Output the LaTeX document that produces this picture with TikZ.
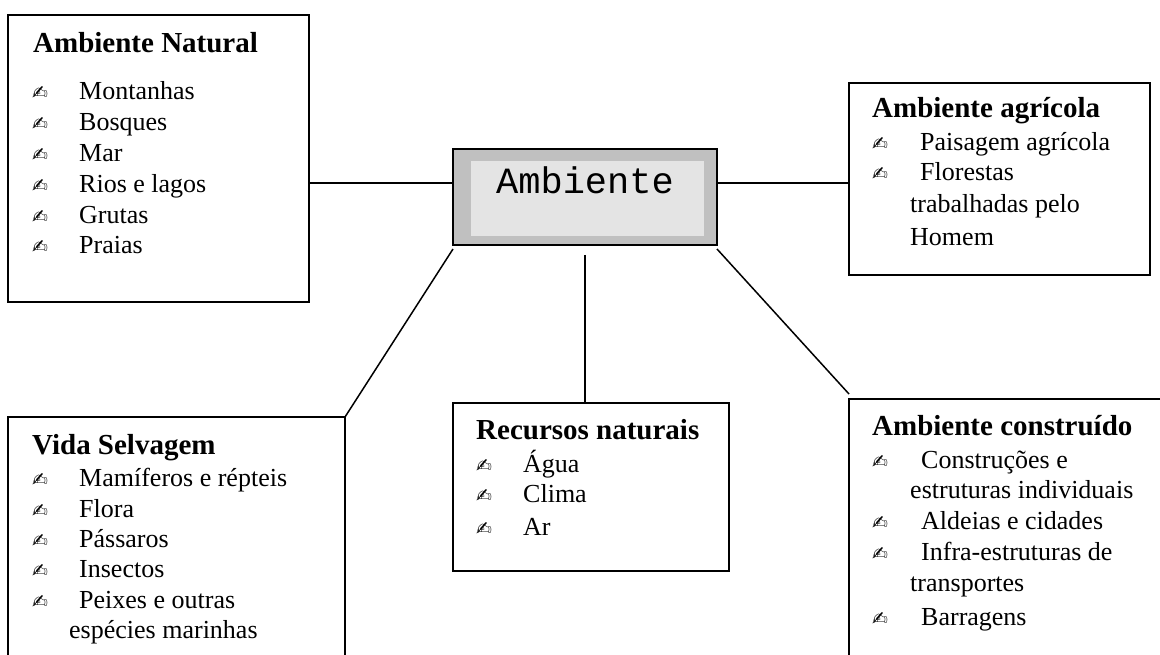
\documentclass[tikz,border=0pt]{standalone}
\usepackage{fontspec}
\setmainfont{Liberation Serif}
\setmonofont{Liberation Mono}
\newfontfamily\symfont{DejaVu Sans}
\definecolor{rimgray}{HTML}{C0C0C0}
\definecolor{facegray}{HTML}{E4E4E4}
\begin{document}
\begin{tikzpicture}[x=1pt,y=-1pt,
  box/.style={draw, line width=1.5pt, anchor=north west, inner sep=0pt, outer sep=0pt},
  link/.style={line width=1.5pt},
  heading/.style={anchor=base west, inner sep=0pt, font=\fontsize{29}{29}\selectfont\bfseries},
  entry/.style={anchor=base west, inner sep=0pt, font=\fontsize{26}{26}\selectfont},
  pen/.style={anchor=base west, inner sep=0pt, font=\symfont\fontsize{19}{19}\selectfont}]
\useasboundingbox (0,0) rectangle (1160,655);
\clip (0,0) rectangle (1160,655);

% ---- boxes ----
\node[box, minimum width=301pt, minimum height=287pt] (nat) at (8,15) {};
\node[box, minimum width=301pt, minimum height=192pt] (agr) at (849,83) {};
\node[box, minimum width=337pt, minimum height=300pt] (vida) at (8,417) {};
\node[box, minimum width=276pt, minimum height=168pt] (rec) at (453,403) {};
\node[box, minimum width=360pt, minimum height=300pt] (cons) at (849,399) {};

% central box
\node[box, fill=rimgray, minimum width=264pt, minimum height=96pt] (cen) at (453,149) {};
\node[anchor=north west, fill=facegray, inner sep=0pt, minimum width=233pt, minimum height=75pt] (cenface) at (471,161) {};
\node[anchor=base, inner sep=0pt, font=\ttfamily\fontsize{37}{37}\selectfont] (centxt) at (585,194) {Ambiente};

% ---- connectors ----
\coordinate (lj) at (cen.west |- 0,183);
\coordinate (rj) at (cen.east |- 0,183);
\coordinate (vtop) at ([yshift=-10pt]cen.south);
\draw[link] (nat.east |- lj) -- (lj);
\draw[link] (rj) -- (agr.west |- rj);
\draw[link] ([yshift=-4pt]cen.south west) -- (vida.north east);
\draw[link] ([yshift=-4pt]cen.south east) -- ([yshift=5pt]cons.north west);
\draw[link] (vtop) -- (vtop |- rec.north);

% ---- Ambiente Natural ----
\node[heading] (natT) at (33,53) {Ambiente Natural};
\foreach \t [count=\i] in {Montanhas, Bosques, Mar, Rios e lagos, Grutas, Praias}{
  \pgfmathsetmacro\yy{100+30.8*(\i-1)}
  \node[pen] (natP\i) at (32,\yy) {✍};
  \node[entry] (natE\i) at (79,\yy) {\t};
}

% ---- Ambiente agrícola ----
\node[heading] (agrT) at (872,118) {Ambiente agrícola};
\node[pen] (agrP1) at (872,151) {✍};
\node[entry] (agrE1) at (920,151) {Paisagem agrícola};
\node[pen] (agrP2) at (872,181) {✍};
\node[entry] (agrE2) at (920,181) {Florestas};
\node[entry] (agrE3) at (910,213) {trabalhadas pelo};
\node[entry] (agrE4) at (910,246) {Homem};

% ---- Vida Selvagem ----
\node[heading] (vidaT) at (32,454) {Vida Selvagem};
\foreach \t/\yy [count=\i] in {Mamíferos e répteis/486, Flora/517, Pássaros/547, Insectos/577, Peixes e outras/608}{
  \node[pen] (vidaP\i) at (32,\yy) {✍};
  \node[entry] (vidaE\i) at (79,\yy) {\t};
}
\node[entry] (vidaE6) at (69,638) {espécies marinhas};

% ---- Recursos naturais ----
\node[heading] (recT) at (476,439) {Recursos naturais};
\foreach \t/\yy [count=\i] in {Água/472, Clima/502, Ar/535}{
  \node[pen] (recP\i) at (476,\yy) {✍};
  \node[entry] (recE\i) at (523,\yy) {\t};
}

% ---- Ambiente construído ----
\node[heading] (consT) at (872,435) {Ambiente construído};
\node[pen] (consP1) at (872,468) {✍};
\node[entry] (consE1) at (921,468) {Construções e};
\node[entry] (consE2) at (910,498) {estruturas individuais};
\node[pen] (consP3) at (872,529) {✍};
\node[entry] (consE3) at (921,529) {Aldeias e cidades};
\node[pen] (consP4) at (872,560) {✍};
\node[entry] (consE4) at (921,560) {Infra-estruturas de};
\node[entry] (consE5) at (910,591) {transportes};
\node[pen] (consP6) at (872,625) {✍};
\node[entry] (consE6) at (921,625) {Barragens};
\end{tikzpicture}
\end{document}
